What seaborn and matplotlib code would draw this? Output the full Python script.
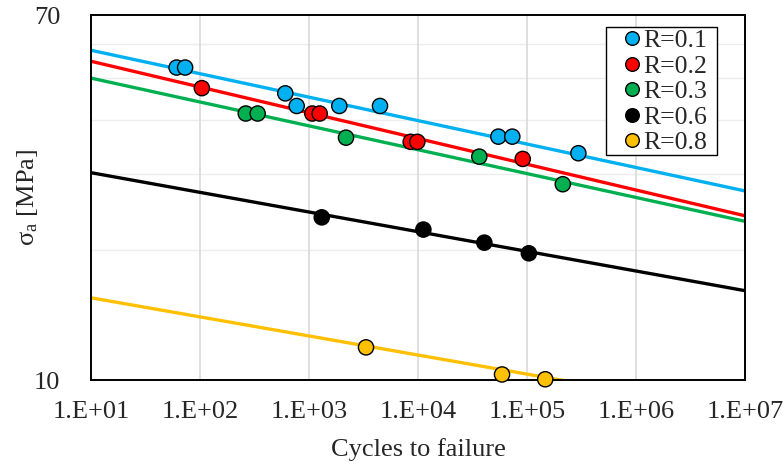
import matplotlib
matplotlib.use("Agg")
import matplotlib.pyplot as plt
import seaborn as sns
import pandas as pd
import numpy as np
from matplotlib.lines import Line2D
from matplotlib.patches import Rectangle
from matplotlib.ticker import FixedLocator, NullFormatter

# ---- data ----
ratios = ["R=0.1", "R=0.2", "R=0.3", "R=0.6", "R=0.8"]
colors = ["#00B0F0", "#FF0000", "#00B050", "#000000", "#FFC000"]

N_R01 = [61, 73, 606, 771, 1897, 4480, 54600, 73300, 296000]
S_R01 = [52.9, 52.9, 46.1, 43.1, 43.1, 43.1, 36.6, 36.6, 33.5]
N_R02 = [104, 1072, 1253, 8570, 9860, 91400]
S_R02 = [47.4, 41.4, 41.4, 35.6, 35.6, 32.5]
N_R03 = [263, 338, 2185, 36500, 213000]
S_R03 = [41.4, 41.4, 36.4, 32.9, 28.4]
N_R06 = [1309, 11200, 40600, 104000]
S_R06 = [23.8, 22.3, 20.8, 19.65]
N_R08 = [3334, 59000, 147000]
S_R08 = [11.9, 10.3, 10.04]

# trend lines (power-law fits) evaluated at N = 1e1 and 1e7
trend_N = [1e1, 1e7]
trend_R01 = [58.0, 27.4]
trend_R02 = [54.7, 24.0]
trend_R03 = [50.0, 23.3]
trend_R06 = [30.2, 16.1]
trend_R08 = [15.5, 8.42]

x_ticks = [1e1, 1e2, 1e3, 1e4, 1e5, 1e6, 1e7]
x_tick_labels = ["1.E+01", "1.E+02", "1.E+03", "1.E+04", "1.E+05", "1.E+06", "1.E+07"]
y_ticks = [10, 70]
y_minor_grid = [20, 30, 40, 50, 60]

# ---- build tables ----
pts = pd.concat([
    pd.DataFrame({"N": n, "S": s, "R": r})
    for n, s, r in zip([N_R01, N_R02, N_R03, N_R06, N_R08],
                       [S_R01, S_R02, S_R03, S_R06, S_R08], ratios)
], ignore_index=True)
trend = pd.concat([
    pd.DataFrame({"N": trend_N, "S": t, "R": r})
    for t, r in zip([trend_R01, trend_R02, trend_R03, trend_R06, trend_R08], ratios)
], ignore_index=True)

sns.set_style("white")
plt.rcParams["font.family"] = ["Liberation Serif", "DejaVu Serif"]
plt.rcParams["mathtext.fontset"] = "custom"
plt.rcParams["mathtext.rm"] = "Liberation Serif"
plt.rcParams["mathtext.it"] = "Liberation Serif"
plt.rcParams["mathtext.default"] = "regular"

fig = plt.figure(figsize=(7.84, 4.65), dpi=100)
ax = fig.add_axes([91/784, 1 - 380/465, 654/784, 365/465])

ax.set_xscale("log")
ax.set_yscale("log")
ax.set_xlim(1e1, 1e7)
ax.set_ylim(10, 70)

palette = dict(zip(ratios, colors))

# grid
for g in y_minor_grid:
    ax.axhline(g, color="#EDEDED", lw=1.0, zorder=0)
for xt in x_ticks:
    ax.axvline(xt, color="#D9D9D9", lw=1.2, zorder=0)

sns.lineplot(data=trend, x="N", y="S", hue="R", palette=palette, lw=2.4,
             legend=False, ax=ax, zorder=2)
sns.scatterplot(data=pts, x="N", y="S", hue="R", palette=palette, s=120,
                edgecolor="black", linewidth=1.0, legend=False, ax=ax,
                zorder=3, clip_on=False)

ax.xaxis.set_major_locator(FixedLocator(x_ticks))
ax.xaxis.set_minor_formatter(NullFormatter())
ax.set_xticklabels(x_tick_labels)
ax.yaxis.set_major_locator(FixedLocator(y_ticks))
ax.yaxis.set_minor_locator(FixedLocator([]))
ax.yaxis.set_minor_formatter(NullFormatter())
ax.set_yticklabels([str(v) for v in y_ticks])
ax.tick_params(axis="both", which="both", length=0, labelsize=19)
ax.tick_params(axis="x", pad=15)
ax.tick_params(axis="y", pad=22)

for sp in ax.spines.values():
    sp.set_color("black")
    sp.set_linewidth(1.4)
    sp.set_visible(True)

ax.set_xlabel("Cycles to failure", fontsize=19, labelpad=11)
ax.set_ylabel(r"σ$_{a}$ [MPa]", fontsize=19, labelpad=-4)

# legend frame (drawn as a box in axes coordinates)
ax.add_patch(Rectangle((0.7875, 0.6164), 0.9572 - 0.7875, 0.9671 - 0.6164,
                       transform=ax.transAxes, facecolor="white",
                       edgecolor="black", lw=1.0, zorder=4))
handles = [Line2D([], [], marker="o", ls="", markersize=9.8, markerfacecolor=c,
                  markeredgecolor="black", markeredgewidth=1.0) for c in colors]
leg = ax.legend(handles, ratios, loc="upper left", bbox_to_anchor=(0.812, 0.961),
                borderaxespad=0, fontsize=18.5, frameon=False,
                handlelength=0.81, handletextpad=0.0,
                labelspacing=0.1, borderpad=0.0)
leg.set_zorder(5)

fig.savefig("out.png", dpi=100)
